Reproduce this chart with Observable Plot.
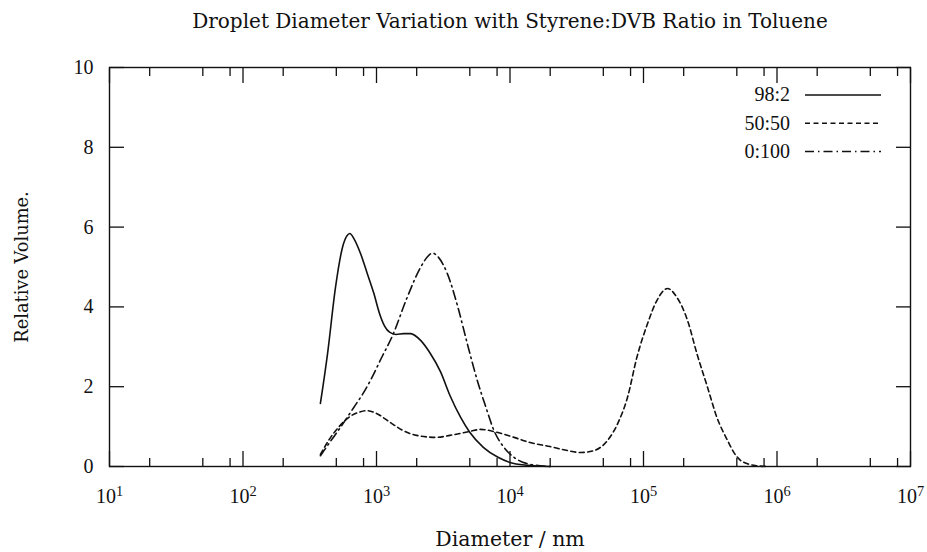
<!DOCTYPE html>
<html>
<head>
<meta charset="utf-8">
<script src="https://cdn.jsdelivr.net/npm/d3@7"></script>
<script src="https://cdn.jsdelivr.net/npm/@observablehq/plot@0.6"></script>
<style>
  body { margin: 0; background: #fff; }
</style>
</head>
<body>
<div id="chart"></div>
<script>
// Droplet size distributions (relative volume vs. diameter in nm)
const seriesNames = ["98:2", "50:50", "0:100"];

const diam_98_2 = [380, 430, 493, 556, 600, 631, 680, 759, 850, 955, 1050, 1150, 1260, 1400, 1600, 1800, 2140, 2510, 3020, 3550, 4270, 5010, 6310, 8130, 10000, 13500, 20000];
const vol_98_2  = [1.58, 2.83, 4.49, 5.49, 5.78, 5.84, 5.70, 5.34, 4.85, 4.34, 3.85, 3.52, 3.36, 3.31, 3.33, 3.33, 3.16, 2.85, 2.37, 1.78, 1.23, 0.85, 0.48, 0.23, 0.10, 0.03, 0.0];

const diam_50_50 = [380, 447, 525, 631, 759, 851, 1000, 1259, 1585, 1995, 2818, 3548, 5012, 6026, 8128, 10715, 14125, 19953, 26915, 33884, 42658, 53703, 64565, 75858, 89125, 107152, 125893, 151356, 177828, 213796, 251189, 301995, 354813, 426580, 480000, 530000, 600000, 700000, 850000];
const vol_50_50  = [0.30, 0.70, 1.00, 1.25, 1.37, 1.40, 1.33, 1.11, 0.90, 0.78, 0.73, 0.78, 0.88, 0.93, 0.85, 0.73, 0.60, 0.50, 0.40, 0.35, 0.40, 0.65, 1.10, 1.73, 2.73, 3.58, 4.16, 4.46, 4.24, 3.66, 2.83, 1.98, 1.23, 0.65, 0.33, 0.16, 0.07, 0.02, 0.0];

const diam_0_100 = [380, 450, 537, 676, 800, 902, 1100, 1318, 1698, 2138, 2400, 2630, 2900, 3388, 4074, 4786, 5754, 6607, 7586, 8913, 10715, 13490, 20000];
const vol_0_100  = [0.27, 0.62, 0.98, 1.48, 1.85, 2.16, 2.75, 3.28, 4.24, 4.99, 5.25, 5.35, 5.25, 4.84, 3.99, 3.08, 2.10, 1.48, 0.90, 0.50, 0.23, 0.07, 0.0];

// Axis ticks
const decadeTicks = [1e1, 1e2, 1e3, 1e4, 1e5, 1e6, 1e7];
const minorMantissas = [2, 5, 8];
const yTicks = [0, 2, 4, 6, 8, 10];

const titleText = "Droplet Diameter Variation with Styrene:DVB Ratio in Toluene";
const xLabel = "Diameter / nm";
const yLabel = "Relative Volume.";

const minorTicks = decadeTicks.slice(0, -1).flatMap(d => minorMantissas.map(m => m * d));

const dashes = { "98:2": null, "50:50": "5,3.5", "0:100": "9,4,1.5,4" };
const ink = "#111";
const wordFont = "'DejaVu Serif', serif";

const seriesData = {
  "98:2": diam_98_2.map((d, i) => ({d, v: vol_98_2[i]})),
  "50:50": diam_50_50.map((d, i) => ({d, v: vol_50_50[i]})),
  "0:100": diam_0_100.map((d, i) => ({d, v: vol_0_100[i]}))
};

// Key drawn inside the upper-right corner of the frame
function keyMark(index, scales, values, dimensions) {
  const right = dimensions.width - dimensions.marginRight;
  const top = dimensions.marginTop;
  const g = d3.create("svg:g");
  seriesNames.forEach((name, i) => {
    const y = top + 28 + i * 28.2;
    g.append("text")
      .attr("x", right - 120).attr("y", y).attr("dy", "0.32em")
      .attr("text-anchor", "end").attr("fill", ink)
      .text(name);
    g.append("line")
      .attr("x1", right - 105).attr("x2", right - 29)
      .attr("y1", y).attr("y2", y)
      .attr("stroke", ink).attr("stroke-width", 1.5)
      .attr("stroke-dasharray", dashes[name]);
  });
  return g.node();
}

const chart = Plot.plot({
  width: 927,
  height: 552,
  marginLeft: 109,
  marginRight: 17,
  marginTop: 67,
  marginBottom: 86,
  style: {fontFamily: "'Liberation Serif', serif", fontSize: "20px", color: ink, background: "#fff", overflow: "visible"},
  x: {type: "log", domain: [1e1, 1e7]},
  y: {domain: [0, 10]},
  marks: [
    // inward ticks on all four sides
    Plot.axisX(decadeTicks, {anchor: "bottom", tickSize: -15, fill: "none", strokeWidth: 1.3}),
    Plot.axisX(decadeTicks, {anchor: "top", tickSize: -15, fill: "none", strokeWidth: 1.3}),
    Plot.axisX(minorTicks, {anchor: "bottom", tickSize: -8, fill: "none", strokeWidth: 1.3}),
    Plot.axisX(minorTicks, {anchor: "top", tickSize: -8, fill: "none", strokeWidth: 1.3}),
    Plot.axisY(yTicks, {anchor: "left", tickSize: -15, fill: "none", strokeWidth: 1.3}),
    Plot.axisY(yTicks, {anchor: "right", tickSize: -15, fill: "none", strokeWidth: 1.3}),
    // tick labels
    Plot.axisX(decadeTicks, {
      anchor: "bottom", tickSize: 0, tickPadding: 22,
      tickFormat: d => `10^${Math.round(Math.log10(d))}`, label: null
    }),
    Plot.axisY(yTicks, {anchor: "left", tickSize: 0, tickPadding: 16, label: null}),
    Plot.frame({stroke: ink, strokeWidth: 1.4}),
    ...seriesNames.map(name => Plot.line(seriesData[name], {
      x: "d", y: "v",
      stroke: ink, strokeWidth: 1.6,
      strokeDasharray: dashes[name],
      curve: "monotone-x"
    })),
    keyMark,
    // title and axis titles
    Plot.text([titleText], {
      text: d => d, frameAnchor: "top", dy: -46, lineAnchor: "middle",
      fill: ink, fontSize: 20, fontFamily: wordFont
    }),
    Plot.text([xLabel], {
      text: d => d, frameAnchor: "bottom", dy: 73, lineAnchor: "middle",
      fill: ink, fontSize: 20.5, fontFamily: wordFont
    }),
    Plot.text([yLabel], {
      text: d => d, frameAnchor: "left", dx: -87, rotate: -90,
      textAnchor: "middle", lineAnchor: "middle",
      fill: ink, fontSize: 17.8, fontFamily: wordFont
    })
  ]
});

// Raise the decade exponents into superscripts
chart.querySelectorAll('[aria-label="x-axis tick label"] text').forEach(t => {
  const [base, exp] = t.textContent.split("^");
  if (exp === undefined) return;
  t.textContent = base;
  const sup = document.createElementNS("http://www.w3.org/2000/svg", "tspan");
  sup.setAttribute("dy", "-0.45em");
  sup.setAttribute("font-size", "0.72em");
  sup.textContent = exp;
  t.appendChild(sup);
});

document.getElementById("chart").appendChild(chart);
</script>
</body>
</html>
